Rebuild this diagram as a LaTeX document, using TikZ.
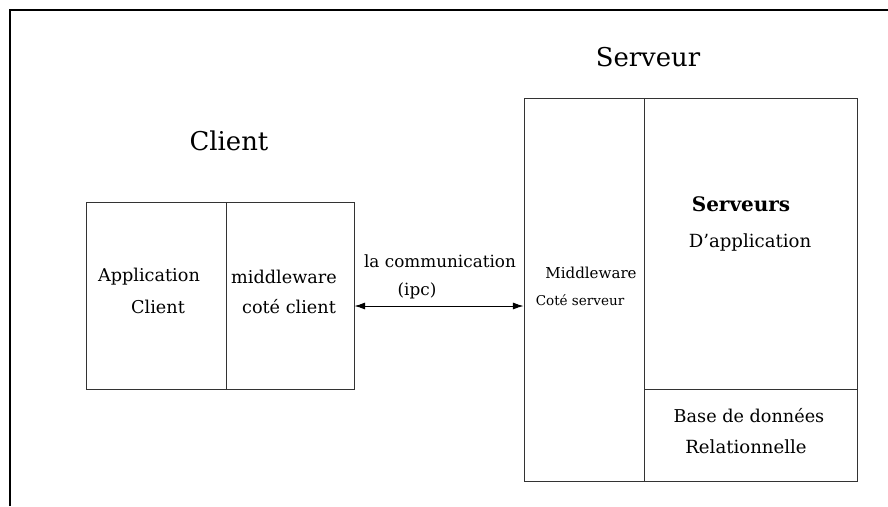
\documentclass[tikz,border=0pt]{standalone}
\usepackage{fontspec}
\setmainfont{DejaVu Serif}
\usetikzlibrary{arrows.meta}
\begin{document}
\begin{tikzpicture}[x=0.85pt,y=-0.85pt,
    cell/.style 2 args={draw=black!80, line width=0.8pt, minimum width=#1*0.85pt, minimum height=#2*0.85pt, inner sep=0pt},
    headline/.style={font=\fontsize{22}{26}\selectfont},
    txt/.style={font=\fontsize{15}{18}\selectfont, inner sep=0pt},
    smalltxt/.style={font=\fontsize{11.5}{14}\selectfont, inner sep=0pt},
    tip/.tip={Latex[length=9pt,width=6pt]}]
  \useasboundingbox (0,0) rectangle (888,506);
  % frame
  \draw[line width=1.6pt] (10,506) -- (10,10) -- (888,10);
  % client
  \node[headline] (tclient) at (229,141) {Client};
  \node[cell={140}{187}] (appclient) at (156,295.5) {};
  \node[cell={128}{187}] (mwclient) at (290,295.5) {};
  \node[txt] (a1) at (149,277) {Application};
  \node[txt] (a2) at (158,307) {Client};
  \node[txt] (m1) at (284,277) {middleware};
  \node[txt] (m2) at (289,307) {coté client};
  % server
  \node[headline] (tserv) at (648,57) {Serveur};
  \node[cell={120}{383}] (mwserv) at (584,289.5) {};
  \node[cell={213}{291}] (appserv) at (750.5,243.5) {};
  \node[cell={213}{92}] (bdd) at (750.5,435) {};
  \node[smalltxt, font=\fontsize{12.8}{15}\selectfont] (s1) at (591,273) {Middleware};
  \node[smalltxt] (s2) at (580,300) {Coté serveur};
  \node[txt, font=\fontsize{17}{20}\selectfont\bfseries] (v1) at (741,204) {Serveurs};
  \node[txt, font=\fontsize{15.4}{18}\selectfont] (v2) at (750,242) {D’application};
  \node[txt] (b1) at (749,416) {Base de données};
  \node[txt, font=\fontsize{15.4}{18}\selectfont] (b2) at (746,447) {Relationnelle};
  % communication
  \node[txt, font=\fontsize{14.3}{17}\selectfont] (c1) at (440,261) {la communication};
  \node[txt, font=\fontsize{14.3}{17}\selectfont] (c2) at (417,291) {(ipc)};
  \coordinate (ipc) at (440,306);
  \draw[tip-tip, line width=0.8pt] (mwclient.east |- ipc) -- (mwserv.west |- ipc);
\end{tikzpicture}
\end{document}
